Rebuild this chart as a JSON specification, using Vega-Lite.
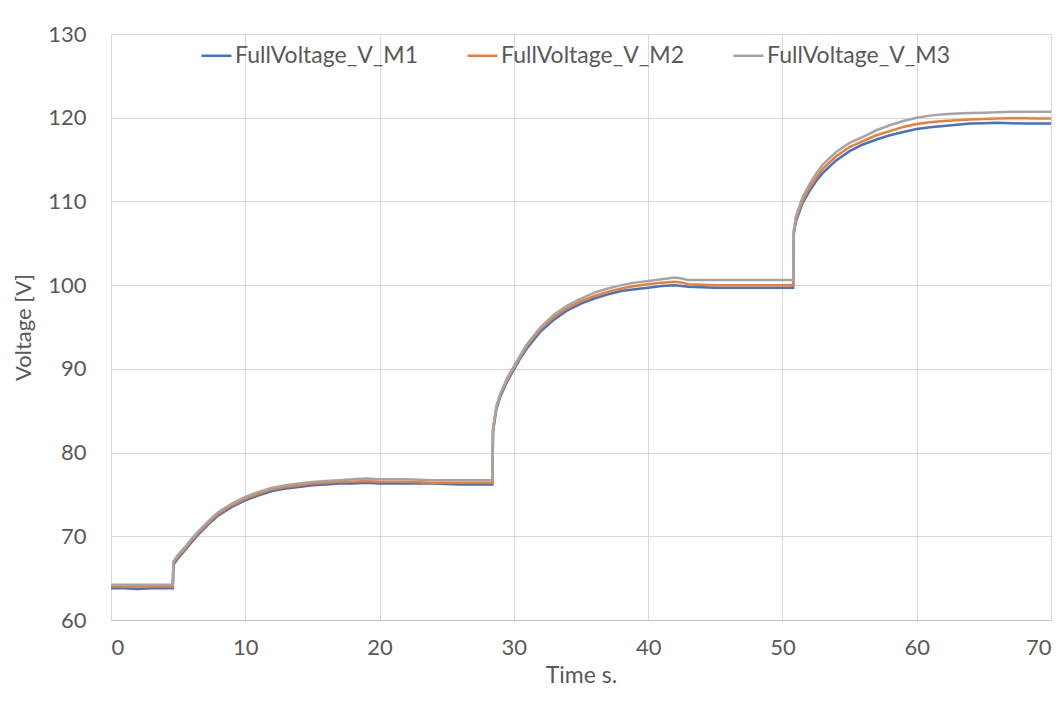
{
  "$schema": "https://vega.github.io/schema/vega-lite/v6.json",
  "width": 940,
  "height": 586,
  "autosize": {"type": "none"},
  "padding": {"left": 111, "top": 34, "right": 13, "bottom": 82},
  "background": "white",
  "config": {
    "view": {"stroke": null},
    "font": "Lato"
  },
  "data": {
    "values": [
      {"t":0,"FullVoltage_V_M1":63.8,"FullVoltage_V_M2":64.0,"FullVoltage_V_M3":64.2},
      {"t":1,"FullVoltage_V_M1":63.8,"FullVoltage_V_M2":64.0,"FullVoltage_V_M3":64.2},
      {"t":2,"FullVoltage_V_M1":63.7,"FullVoltage_V_M2":64.0,"FullVoltage_V_M3":64.2},
      {"t":3,"FullVoltage_V_M1":63.8,"FullVoltage_V_M2":64.0,"FullVoltage_V_M3":64.2},
      {"t":4,"FullVoltage_V_M1":63.8,"FullVoltage_V_M2":64.0,"FullVoltage_V_M3":64.2},
      {"t":4.6,"FullVoltage_V_M1":63.8,"FullVoltage_V_M2":64.0,"FullVoltage_V_M3":64.2},
      {"t":4.65,"FullVoltage_V_M1":66.6,"FullVoltage_V_M2":66.8,"FullVoltage_V_M3":67.0},
      {"t":5,"FullVoltage_V_M1":67.4,"FullVoltage_V_M2":67.6,"FullVoltage_V_M3":67.8},
      {"t":5.5,"FullVoltage_V_M1":68.3,"FullVoltage_V_M2":68.5,"FullVoltage_V_M3":68.7},
      {"t":6,"FullVoltage_V_M1":69.3,"FullVoltage_V_M2":69.5,"FullVoltage_V_M3":69.7},
      {"t":6.5,"FullVoltage_V_M1":70.2,"FullVoltage_V_M2":70.4,"FullVoltage_V_M3":70.6},
      {"t":7,"FullVoltage_V_M1":71.0,"FullVoltage_V_M2":71.2,"FullVoltage_V_M3":71.4},
      {"t":7.5,"FullVoltage_V_M1":71.8,"FullVoltage_V_M2":72.0,"FullVoltage_V_M3":72.2},
      {"t":8,"FullVoltage_V_M1":72.5,"FullVoltage_V_M2":72.7,"FullVoltage_V_M3":72.9},
      {"t":9,"FullVoltage_V_M1":73.5,"FullVoltage_V_M2":73.7,"FullVoltage_V_M3":73.9},
      {"t":10,"FullVoltage_V_M1":74.3,"FullVoltage_V_M2":74.5,"FullVoltage_V_M3":74.7},
      {"t":11,"FullVoltage_V_M1":74.9,"FullVoltage_V_M2":75.1,"FullVoltage_V_M3":75.3},
      {"t":12,"FullVoltage_V_M1":75.4,"FullVoltage_V_M2":75.6,"FullVoltage_V_M3":75.8},
      {"t":13,"FullVoltage_V_M1":75.7,"FullVoltage_V_M2":75.9,"FullVoltage_V_M3":76.1},
      {"t":14,"FullVoltage_V_M1":75.9,"FullVoltage_V_M2":76.1,"FullVoltage_V_M3":76.3},
      {"t":15,"FullVoltage_V_M1":76.1,"FullVoltage_V_M2":76.3,"FullVoltage_V_M3":76.5},
      {"t":16,"FullVoltage_V_M1":76.2,"FullVoltage_V_M2":76.4,"FullVoltage_V_M3":76.6},
      {"t":17,"FullVoltage_V_M1":76.3,"FullVoltage_V_M2":76.5,"FullVoltage_V_M3":76.7},
      {"t":18,"FullVoltage_V_M1":76.3,"FullVoltage_V_M2":76.5,"FullVoltage_V_M3":76.8},
      {"t":19,"FullVoltage_V_M1":76.4,"FullVoltage_V_M2":76.6,"FullVoltage_V_M3":76.9},
      {"t":20,"FullVoltage_V_M1":76.3,"FullVoltage_V_M2":76.5,"FullVoltage_V_M3":76.8},
      {"t":22,"FullVoltage_V_M1":76.3,"FullVoltage_V_M2":76.5,"FullVoltage_V_M3":76.8},
      {"t":24,"FullVoltage_V_M1":76.3,"FullVoltage_V_M2":76.4,"FullVoltage_V_M3":76.7},
      {"t":26,"FullVoltage_V_M1":76.2,"FullVoltage_V_M2":76.4,"FullVoltage_V_M3":76.7},
      {"t":28.4,"FullVoltage_V_M1":76.2,"FullVoltage_V_M2":76.4,"FullVoltage_V_M3":76.7},
      {"t":28.45,"FullVoltage_V_M1":82.6,"FullVoltage_V_M2":82.7,"FullVoltage_V_M3":82.9},
      {"t":28.7,"FullVoltage_V_M1":85.2,"FullVoltage_V_M2":85.4,"FullVoltage_V_M3":85.6},
      {"t":29,"FullVoltage_V_M1":86.7,"FullVoltage_V_M2":86.9,"FullVoltage_V_M3":87.1},
      {"t":29.5,"FullVoltage_V_M1":88.5,"FullVoltage_V_M2":88.7,"FullVoltage_V_M3":88.9},
      {"t":30,"FullVoltage_V_M1":89.9,"FullVoltage_V_M2":90.1,"FullVoltage_V_M3":90.3},
      {"t":30.5,"FullVoltage_V_M1":91.3,"FullVoltage_V_M2":91.5,"FullVoltage_V_M3":91.7},
      {"t":31,"FullVoltage_V_M1":92.5,"FullVoltage_V_M2":92.8,"FullVoltage_V_M3":93.0},
      {"t":32,"FullVoltage_V_M1":94.5,"FullVoltage_V_M2":94.8,"FullVoltage_V_M3":95.0},
      {"t":33,"FullVoltage_V_M1":95.9,"FullVoltage_V_M2":96.2,"FullVoltage_V_M3":96.5},
      {"t":34,"FullVoltage_V_M1":97.0,"FullVoltage_V_M2":97.3,"FullVoltage_V_M3":97.6},
      {"t":35,"FullVoltage_V_M1":97.8,"FullVoltage_V_M2":98.1,"FullVoltage_V_M3":98.4},
      {"t":36,"FullVoltage_V_M1":98.4,"FullVoltage_V_M2":98.7,"FullVoltage_V_M3":99.1},
      {"t":37,"FullVoltage_V_M1":98.9,"FullVoltage_V_M2":99.2,"FullVoltage_V_M3":99.6},
      {"t":38,"FullVoltage_V_M1":99.3,"FullVoltage_V_M2":99.6,"FullVoltage_V_M3":100.0},
      {"t":39,"FullVoltage_V_M1":99.5,"FullVoltage_V_M2":99.9,"FullVoltage_V_M3":100.3},
      {"t":40,"FullVoltage_V_M1":99.7,"FullVoltage_V_M2":100.1,"FullVoltage_V_M3":100.5},
      {"t":41,"FullVoltage_V_M1":99.9,"FullVoltage_V_M2":100.3,"FullVoltage_V_M3":100.7},
      {"t":42,"FullVoltage_V_M1":100.0,"FullVoltage_V_M2":100.4,"FullVoltage_V_M3":100.9},
      {"t":42.5,"FullVoltage_V_M1":99.9,"FullVoltage_V_M2":100.3,"FullVoltage_V_M3":100.8},
      {"t":43,"FullVoltage_V_M1":99.8,"FullVoltage_V_M2":100.1,"FullVoltage_V_M3":100.6},
      {"t":45,"FullVoltage_V_M1":99.7,"FullVoltage_V_M2":100.0,"FullVoltage_V_M3":100.6},
      {"t":48,"FullVoltage_V_M1":99.7,"FullVoltage_V_M2":100.0,"FullVoltage_V_M3":100.6},
      {"t":50.8,"FullVoltage_V_M1":99.7,"FullVoltage_V_M2":100.0,"FullVoltage_V_M3":100.6},
      {"t":50.85,"FullVoltage_V_M1":106.2,"FullVoltage_V_M2":106.4,"FullVoltage_V_M3":106.6},
      {"t":51,"FullVoltage_V_M1":107.6,"FullVoltage_V_M2":107.9,"FullVoltage_V_M3":108.2},
      {"t":51.5,"FullVoltage_V_M1":109.8,"FullVoltage_V_M2":110.1,"FullVoltage_V_M3":110.5},
      {"t":52,"FullVoltage_V_M1":111.2,"FullVoltage_V_M2":111.6,"FullVoltage_V_M3":112.0},
      {"t":52.5,"FullVoltage_V_M1":112.4,"FullVoltage_V_M2":112.8,"FullVoltage_V_M3":113.3},
      {"t":53,"FullVoltage_V_M1":113.4,"FullVoltage_V_M2":113.9,"FullVoltage_V_M3":114.4},
      {"t":54,"FullVoltage_V_M1":114.9,"FullVoltage_V_M2":115.4,"FullVoltage_V_M3":115.9},
      {"t":55,"FullVoltage_V_M1":116.0,"FullVoltage_V_M2":116.5,"FullVoltage_V_M3":117.0},
      {"t":56,"FullVoltage_V_M1":116.8,"FullVoltage_V_M2":117.2,"FullVoltage_V_M3":117.7},
      {"t":57,"FullVoltage_V_M1":117.4,"FullVoltage_V_M2":117.9,"FullVoltage_V_M3":118.5},
      {"t":58,"FullVoltage_V_M1":117.9,"FullVoltage_V_M2":118.4,"FullVoltage_V_M3":119.1},
      {"t":59,"FullVoltage_V_M1":118.3,"FullVoltage_V_M2":118.9,"FullVoltage_V_M3":119.6},
      {"t":60,"FullVoltage_V_M1":118.65,"FullVoltage_V_M2":119.25,"FullVoltage_V_M3":120.0},
      {"t":61,"FullVoltage_V_M1":118.85,"FullVoltage_V_M2":119.45,"FullVoltage_V_M3":120.25},
      {"t":62,"FullVoltage_V_M1":119.0,"FullVoltage_V_M2":119.6,"FullVoltage_V_M3":120.4},
      {"t":63,"FullVoltage_V_M1":119.15,"FullVoltage_V_M2":119.7,"FullVoltage_V_M3":120.5},
      {"t":64,"FullVoltage_V_M1":119.3,"FullVoltage_V_M2":119.8,"FullVoltage_V_M3":120.55},
      {"t":65,"FullVoltage_V_M1":119.35,"FullVoltage_V_M2":119.85,"FullVoltage_V_M3":120.6},
      {"t":66,"FullVoltage_V_M1":119.4,"FullVoltage_V_M2":119.9,"FullVoltage_V_M3":120.65},
      {"t":67,"FullVoltage_V_M1":119.35,"FullVoltage_V_M2":119.95,"FullVoltage_V_M3":120.7},
      {"t":68,"FullVoltage_V_M1":119.3,"FullVoltage_V_M2":119.95,"FullVoltage_V_M3":120.7},
      {"t":69,"FullVoltage_V_M1":119.3,"FullVoltage_V_M2":119.9,"FullVoltage_V_M3":120.7},
      {"t":70,"FullVoltage_V_M1":119.3,"FullVoltage_V_M2":119.9,"FullVoltage_V_M3":120.7}
    ]
  },
  "transform": [
    {"fold": ["FullVoltage_V_M1", "FullVoltage_V_M2", "FullVoltage_V_M3"], "as": ["series", "v"]}
  ],
  "mark": {"type": "line", "strokeWidth": 2.5},
  "encoding": {
    "x": {
      "field": "t", "type": "quantitative",
      "scale": {"domain": [0, 70], "nice": false, "zero": false},
      "axis": {
        "title": "Time s.", "values": [0,10,20,30,40,50,60,70],
        "grid": true, "gridColor": "#D9D9D9", "gridWidth": 1,
        "domain": true, "domainColor": "#BFBFBF", "domainWidth": 1.2,
        "ticks": false, "labelPadding": 17,
        "labelFont": "Lato", "labelFontSize": 22, "labelColor": "#595959",
        "titleFont": "Lato", "titleFontSize": 23, "titleFontWeight": "normal", "titleColor": "#595959", "titlePadding": 6
      }
    },
    "y": {
      "field": "v", "type": "quantitative",
      "scale": {"domain": [60, 130], "nice": false, "zero": false},
      "axis": {
        "title": "Voltage [V]", "values": [60,70,80,90,100,110,120,130],
        "grid": true, "gridColor": "#D9D9D9", "gridWidth": 1,
        "domain": false, "ticks": false, "labelPadding": 25,
        "labelFont": "Lato", "labelFontSize": 22, "labelColor": "#595959",
        "titleFont": "Lato", "titleFontSize": 22, "titleFontWeight": "normal", "titleColor": "#595959", "titlePadding": 12
      }
    },
    "color": {
      "field": "series", "type": "nominal",
      "scale": {"domain": ["FullVoltage_V_M1", "FullVoltage_V_M2", "FullVoltage_V_M3"], "range": ["#4472C4", "#ED7D31", "#A5A5A5"]},
      "legend": {
        "title": null, "orient": "none", "legendX": 89, "legendY": 5,
        "direction": "horizontal", "symbolType": "stroke", "symbolSize": 900,
        "symbolStrokeWidth": 2.5, "labelFont": "Lato", "labelFontSize": 23,
        "labelColor": "#595959", "labelOffset": 2, "columnPadding": 43,
        "labelLimit": 400
      }
    }
  }
}
